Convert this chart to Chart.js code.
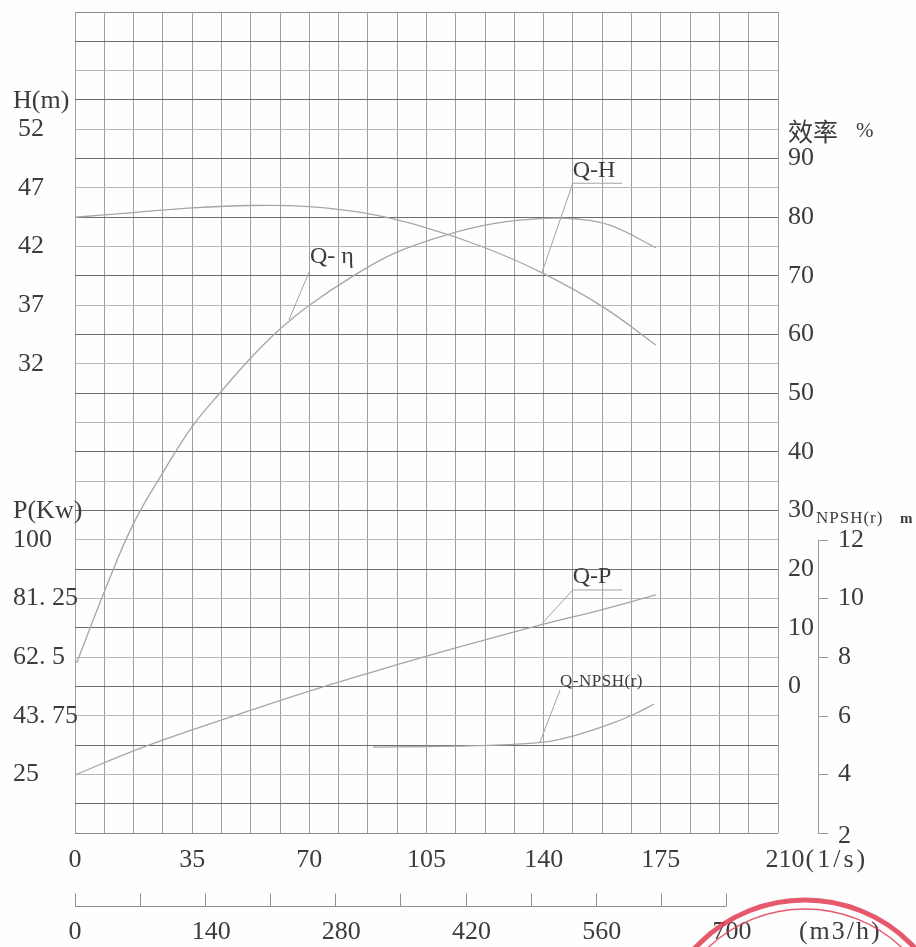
<!DOCTYPE html>
<html><head><meta charset="utf-8">
<script src="https://cdn.jsdelivr.net/npm/chart.js@4.4.1/dist/chart.umd.min.js"></script>
<style>html,body{margin:0;padding:0;background:#fff;}canvas{display:block;}</style>
</head><body>
<canvas id="c" width="916" height="947"></canvas>
<script>
// ---- tick labels ----
const qTicks = [0, 35, 70, 105, 140, 175, 210];          // l/s
const qM3Ticks = [0, 140, 280, 420, 560, 700];           // m3/h
const qM3Minor = [0, 70, 140, 210, 280, 350, 420, 490, 560, 630, 700];
const hTicks = [32, 37, 42, 47, 52];
const effTicks = [0, 10, 20, 30, 40, 50, 60, 70, 80, 90];
const pTicks = [25, 43.75, 62.5, 81.25, 100];
const npshTicks = [2, 4, 6, 8, 10, 12];

// ---- series ----
const qH   = [0, 17.5, 35, 52.5, 70, 87.5, 105, 122.5, 140, 157.5, 173.5];
const head = [44.5, 44.9, 45.3, 45.5, 45.4, 44.8, 43.6, 41.9, 39.7, 36.9, 33.6];

const qEff = [0.5, 9, 17.5, 26.3, 35, 44, 52.5, 61, 70, 84, 96, 111, 125, 140, 150, 160, 173.5];
const eff  = [4.0, 16.5, 27.8, 36.5, 44.3, 50.5, 56.0, 60.8, 65.0, 70.3, 74.0, 77.0, 78.9, 79.8, 79.7, 78.6, 74.8];

const qP    = [0, 17.5, 35, 52.5, 70, 87.5, 105, 122.5, 140, 157.5, 173.5];
const power = [24.8, 32.5, 39.2, 45.5, 51.6, 57.3, 62.8, 68.0, 73.0, 77.7, 82.4];

const qN   = [89, 105, 120, 140, 150, 160, 167, 173];
const npsh = [4.93, 4.95, 4.98, 5.1, 5.35, 5.72, 6.05, 6.4];

// ---- curve label annotations (data coordinates on each curve's axis) ----
const notes = [
  {text: 'Q-H', axis: 'yH', tip: [139.5, 39.8], elbow: [148.7, 47.4], underlineTo: 163.4, small: false},
  {text: 'Q- η', axis: 'yE', tip: [63.9, 62.5], elbow: [70.2, 71.0], underlineTo: null, small: false},
  {text: 'Q-P', axis: 'yP', tip: [139.5, 73.2], elbow: [148.7, 83.95], underlineTo: 163.4, small: false},
  {text: 'Q-NPSH(r)', axis: 'yN', tip: [138.9, 5.1], elbow: [144.9, 6.88], underlineTo: null, small: true}
];

const toXY = (xs, ys) => xs.map((x, i) => ({x: x, y: ys[i]}));
const curve = {borderColor: '#a6a6a6', borderWidth: 1.3, pointRadius: 0, fill: false, tension: 0.4};

const SERIF = '"Liberation Serif", "DejaVu Serif", serif';
const TXT = '#3c3c3c';
const fmt = v => String(v).replace('.', '. ');

const labelsPlugin = {
  id: 'labels',
  beforeDraw(chart) {
    const ctx = chart.ctx;
    ctx.save();
    ctx.fillStyle = '#fefefe';
    ctx.fillRect(0, 0, chart.width, chart.height);
    ctx.restore();
  },
  afterDraw(chart) {
    const ctx = chart.ctx;
    const s = chart.scales;
    const area = chart.chartArea;
    ctx.save();
    ctx.fillStyle = TXT;
    ctx.textBaseline = 'middle';
    ctx.font = '26px ' + SERIF;

    // left: H
    ctx.textAlign = 'left';
    hTicks.forEach(v => ctx.fillText(String(v), 18, s.yH.getPixelForValue(v)));
    ctx.fillText('H(m)', 13, s.yH.getPixelForValue(hTicks[hTicks.length - 1]) - 28);
    // left: P
    pTicks.forEach(v => ctx.fillText(fmt(v), 13, s.yP.getPixelForValue(v)));
    ctx.fillText('P(Kw)', 13, s.yP.getPixelForValue(pTicks[pTicks.length - 1]) - 29);

    // right: efficiency
    const rx = area.right + 10;
    effTicks.forEach(v => ctx.fillText(String(v), rx, s.yE.getPixelForValue(v)));
    const effTop = s.yE.getPixelForValue(effTicks[effTicks.length - 1]) - 27;
    ctx.font = '25px "Noto Sans CJK SC", sans-serif';
    ctx.fillText('效率', rx, effTop);
    ctx.font = '21px ' + SERIF;
    ctx.fillText('%', rx + 68, effTop);

    // NPSH axis
    const nx = area.right + 40;
    const nTop = s.yN.getPixelForValue(npshTicks[npshTicks.length - 1]);
    const nBot = s.yN.getPixelForValue(npshTicks[0]);
    ctx.strokeStyle = '#9a9a9a';
    ctx.lineWidth = 1;
    ctx.beginPath();
    ctx.moveTo(nx + 0.5, nTop); ctx.lineTo(nx + 0.5, nBot);
    npshTicks.forEach(v => {
      const y = Math.round(s.yN.getPixelForValue(v)) + 0.5;
      ctx.moveTo(nx, y); ctx.lineTo(nx + 10, y);
    });
    ctx.stroke();
    ctx.font = '26px ' + SERIF;
    npshTicks.forEach(v => ctx.fillText(String(v), nx + 20, s.yN.getPixelForValue(v) + (v === npshTicks[0] ? 3 : 0)));
    ctx.font = '17px ' + SERIF;
    ctx.letterSpacing = '1px';
    ctx.fillText('NPSH(r)', nx - 2, nTop - 21);
    ctx.font = 'bold 15px ' + SERIF;
    ctx.letterSpacing = '0px';
    ctx.fillText('m', nx + 82, nTop - 21);

    // bottom axis (l/s)
    ctx.font = '26px ' + SERIF;
    ctx.textAlign = 'center';
    const by = area.bottom + 27;
    qTicks.forEach(v => ctx.fillText(String(v), s.x.getPixelForValue(v) + (v === 210 ? 7 : 0), by));
    ctx.textAlign = 'left';
    const w210 = ctx.measureText('210').width;
    ctx.letterSpacing = '3px';
    ctx.fillText('(1/s)', s.x.getPixelForValue(210) + 8 + w210 / 2, by);
    ctx.letterSpacing = '0px';

    // second axis (m3/h)
    const my = area.bottom + 73.5;
    const mx0 = s.xm.getPixelForValue(qM3Minor[0]);
    const mx1 = s.xm.getPixelForValue(qM3Minor[qM3Minor.length - 1]);
    ctx.strokeStyle = '#8f8f8f';
    ctx.beginPath();
    ctx.moveTo(mx0, my); ctx.lineTo(mx1, my);
    qM3Minor.forEach(v => {
      const x = Math.round(s.xm.getPixelForValue(v)) + 0.5;
      ctx.moveTo(x, my); ctx.lineTo(x, my - 13);
    });
    ctx.stroke();
    ctx.textAlign = 'center';
    qM3Ticks.forEach(v => ctx.fillText(String(v), s.xm.getPixelForValue(v) + (v === 0 ? 0 : 6), area.bottom + 99));
    ctx.textAlign = 'left';
    ctx.letterSpacing = '2px';
    ctx.fillText('(m3/h)', s.xm.getPixelForValue(700) + 73, area.bottom + 99);
    ctx.letterSpacing = '0px';

    // curve annotations
    notes.forEach(n => {
      const sc = s[n.axis];
      const tx = s.x.getPixelForValue(n.tip[0]), ty = sc.getPixelForValue(n.tip[1]);
      const ex = s.x.getPixelForValue(n.elbow[0]), ey = sc.getPixelForValue(n.elbow[1]);
      ctx.strokeStyle = '#a3a3a3';
      ctx.lineWidth = 1;
      ctx.beginPath();
      ctx.moveTo(tx, ty); ctx.lineTo(ex, ey);
      if (n.underlineTo !== null) { ctx.lineTo(s.x.getPixelForValue(n.underlineTo), ey); }
      ctx.stroke();
      ctx.fillStyle = TXT;
      ctx.textAlign = 'left';
      if (n.small) {
        ctx.font = '17px ' + SERIF;
        ctx.letterSpacing = '0.5px';
        ctx.fillText(n.text, ex, ey - 8);
        ctx.letterSpacing = '0px';
      } else {
        ctx.font = '24px ' + SERIF;
        ctx.fillText(n.text, ex, ey - 13);
      }
    });

    // red seal (decoration)
    ctx.strokeStyle = 'rgba(226,60,82,0.85)';
    ctx.lineWidth = 5;
    ctx.beginPath();
    ctx.arc(805, 1050, 150, 0, Math.PI * 2);
    ctx.stroke();
    ctx.lineWidth = 1.5;
    ctx.beginPath();
    ctx.arc(805, 1050, 141, 0, Math.PI * 2);
    ctx.stroke();
    ctx.restore();
  }
};

const zero = sc => { if (sc.isHorizontal()) sc.height = 0; else sc.width = 0; };

new Chart(document.getElementById('c'), {
  type: 'line',
  data: {
    datasets: [
      Object.assign({label: 'Q-H', data: toXY(qH, head), yAxisID: 'yH', xAxisID: 'x'}, curve),
      Object.assign({label: 'Q-η', data: toXY(qEff, eff), yAxisID: 'yE', xAxisID: 'x'}, curve),
      Object.assign({label: 'Q-P', data: toXY(qP, power), yAxisID: 'yP', xAxisID: 'x'}, curve),
      Object.assign({label: 'Q-NPSH(r)', data: toXY(qN, npsh), yAxisID: 'yN', xAxisID: 'x'}, curve)
    ]
  },
  options: {
    responsive: false,
    animation: false,
    devicePixelRatio: 1,
    layout: {padding: {left: 75, right: 138, top: 12, bottom: 114}},
    plugins: {legend: {display: false}, tooltip: {enabled: false}},
    scales: {
      x: {
        type: 'linear', position: 'bottom', min: 0, max: 210,
        ticks: {display: false, stepSize: 8.75},
        grid: {color: '#a0a0a0', lineWidth: 1, drawTicks: false},
        border: {display: false},
        afterFit: zero
      },
      xm: {type: 'linear', position: 'bottom', min: 0, max: 756, display: false, afterFit: zero},
      yg: {
        type: 'linear', position: 'left', min: 0, max: 28,
        ticks: {display: false, stepSize: 1},
        grid: {
          drawTicks: false, lineWidth: 1,
          color: c => (c.tick.value === 0 || c.tick.value === 28) ? '#8a8a8a' : (c.tick.value % 2 === 1 ? '#6c6c6c' : '#b8b8b8')
        },
        border: {display: false},
        afterFit: zero
      },
      yH: {type: 'linear', position: 'left', min: -8, max: 62, display: false, afterFit: zero},
      yE: {type: 'linear', position: 'right', min: -25, max: 115, display: false, afterFit: zero},
      yP: {type: 'linear', position: 'left', min: 6.25, max: 268.75, display: false, afterFit: zero},
      yN: {type: 'linear', position: 'right', min: 2, max: 30, display: false, afterFit: zero}
    }
  },
  plugins: [labelsPlugin]
});
</script>
</body></html>
